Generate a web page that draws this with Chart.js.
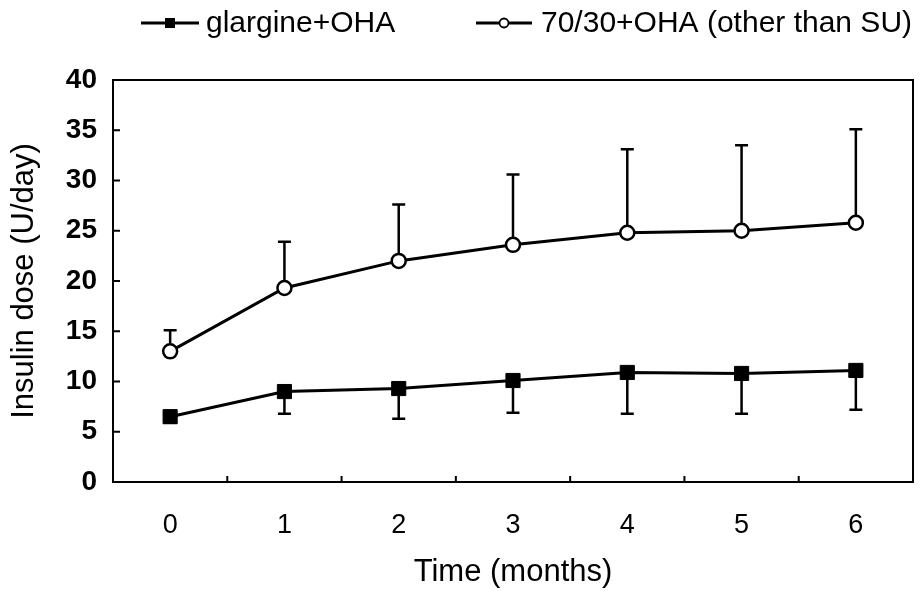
<!DOCTYPE html>
<html lang="en">
<head>
  <meta charset="UTF-8">
  <title>Insulin dose over time</title>
  <script src="https://cdn.jsdelivr.net/npm/chart.js"></script>
  <style>
    body { margin: 0; background: #fff; }
    canvas { display: block; }
  </style>
</head>
<body>
  <canvas id="dose-chart" width="924" height="591"></canvas>

  <script>
    // values
    const months = ['0', '1', '2', '3', '4', '5', '6'];
    const yTicks = [0, 5, 10, 15, 20, 25, 30, 35, 40];
    const glargineMean = [6.5, 9.0, 9.3, 10.1, 10.9, 10.8, 11.1];
    const glargineSD = [0.6, 2.2, 3.0, 3.2, 4.1, 4.0, 3.9];
    const premixMean = [13.0, 19.3, 22.0, 23.6, 24.8, 25.0, 25.8];
    const premixSD = [2.1, 4.6, 5.6, 7.0, 8.3, 8.5, 9.3];
    const seriesNames = ['glargine+OHA', '70/30+OHA (other than SU)'];

    const FONT = '"Liberation Sans", Arial, sans-serif';

    // one-sided SD bars: glargine down, 70/30 up
    const errorBars = {
      id: 'errorBars',
      beforeDatasetsDraw(chart) {
        const ctx = chart.ctx;
        const x = chart.scales.x, y = chart.scales.y;
        const sets = [[glargineMean, glargineSD, -1], [premixMean, premixSD, 1]];
        ctx.save();
        ctx.strokeStyle = '#000';
        ctx.lineWidth = 2.5;
        sets.forEach(([mean, sd, dir]) => {
          mean.forEach((m, i) => {
            const px = x.getPixelForValue(i);
            const y0 = y.getPixelForValue(m);
            const y1 = y.getPixelForValue(m + dir * sd[i]);
            ctx.beginPath();
            ctx.moveTo(px, y0);
            ctx.lineTo(px, y1);
            ctx.moveTo(px - 6.5, y1);
            ctx.lineTo(px + 6.5, y1);
            ctx.stroke();
          });
        });
        ctx.restore();
      }
    };

    // frame and inward tick marks
    const frame = {
      id: 'frame',
      afterDatasetsDraw(chart) {
        const ctx = chart.ctx;
        const a = chart.chartArea;
        const x = chart.scales.x, y = chart.scales.y;
        ctx.save();
        ctx.strokeStyle = '#000';
        ctx.lineWidth = 2;
        ctx.strokeRect(a.left, a.top, a.right - a.left, a.bottom - a.top);
        ctx.beginPath();
        yTicks.slice(1, -1).forEach(v => {
          const py = y.getPixelForValue(v);
          ctx.moveTo(a.left, py);
          ctx.lineTo(a.left + 7, py);
        });
        for (let i = 0; i < months.length - 1; i++) {
          const px = (x.getPixelForValue(i) + x.getPixelForValue(i + 1)) / 2;
          ctx.moveTo(px, a.bottom);
          ctx.lineTo(px, a.bottom - 6);
        }
        ctx.stroke();
        ctx.restore();
      }
    };

    // legend drawn above the plot: line, marker, label
    const topLegend = {
      id: 'topLegend',
      afterDraw(chart) {
        const ctx = chart.ctx;
        const items = [
          { x0: 141, x1: 199, text: 206, filled: true },
          { x0: 476, x1: 532, text: 541, filled: false }
        ];
        const ly = 23;
        ctx.save();
        ctx.strokeStyle = '#000';
        ctx.fillStyle = '#000';
        items.forEach((it, k) => {
          ctx.lineWidth = 3;
          ctx.beginPath();
          ctx.moveTo(it.x0, ly);
          ctx.lineTo(it.x1, ly);
          ctx.stroke();
          const cx = (it.x0 + it.x1) / 2;
          if (it.filled) {
            ctx.fillRect(cx - 5, ly - 5, 10, 10);
          } else {
            ctx.beginPath();
            ctx.arc(cx, ly, 4.5, 0, Math.PI * 2);
            ctx.fillStyle = '#fff';
            ctx.fill();
            ctx.lineWidth = 1.8;
            ctx.stroke();
            ctx.fillStyle = '#000';
          }
          ctx.font = '30px ' + FONT;
          ctx.textBaseline = 'middle';
          ctx.textAlign = 'left';
          ctx.fillText(seriesNames[k], it.text, ly + 1);
        });
        ctx.restore();
      }
    };

    new Chart(document.getElementById('dose-chart'), {
      type: 'line',
      data: {
        labels: months,
        datasets: [{
          label: seriesNames[0],
          data: glargineMean,
          borderColor: '#000',
          backgroundColor: '#000',
          borderWidth: 3,
          pointStyle: 'rect',
          pointRadius: 10,
          pointBorderWidth: 1,
          tension: 0
        }, {
          label: seriesNames[1],
          data: premixMean,
          borderColor: '#000',
          backgroundColor: '#fff',
          borderWidth: 3,
          pointStyle: 'circle',
          pointRadius: 7,
          pointBorderWidth: 2.5,
          tension: 0
        }]
      },
      options: {
        responsive: false,
        animation: false,
        layout: { padding: { top: 80, right: 8, left: 0, bottom: 0 } },
        plugins: { legend: { display: false }, tooltip: { enabled: false } },
        scales: {
          x: {
            offset: true,
            grid: { display: false, drawTicks: false },
            border: { display: false },
            ticks: { color: '#000', padding: 27, font: { family: FONT, size: 27 } },
            title: {
              display: true, text: 'Time (months)', color: '#000',
              font: { family: FONT, size: 31 }, padding: { top: 0, bottom: 0 }
            },
            afterFit: s => { s.height = 109; }
          },
          y: {
            min: 0, max: 40,
            afterBuildTicks: s => { s.ticks = yTicks.map(v => ({ value: v })); },
            grid: { display: false, drawTicks: false },
            border: { display: false },
            ticks: { color: '#000', padding: 16, font: { family: FONT, size: 28, weight: 'bold' } },
            title: {
              display: true, text: 'Insulin dose (U/day)', color: '#000',
              font: { family: FONT, size: 31 }, padding: { top: 6, bottom: 0 }
            },
            afterFit: s => { s.width = 113; }
          }
        }
      },
      plugins: [errorBars, frame, topLegend]
    });
  </script>
</body>
</html>
